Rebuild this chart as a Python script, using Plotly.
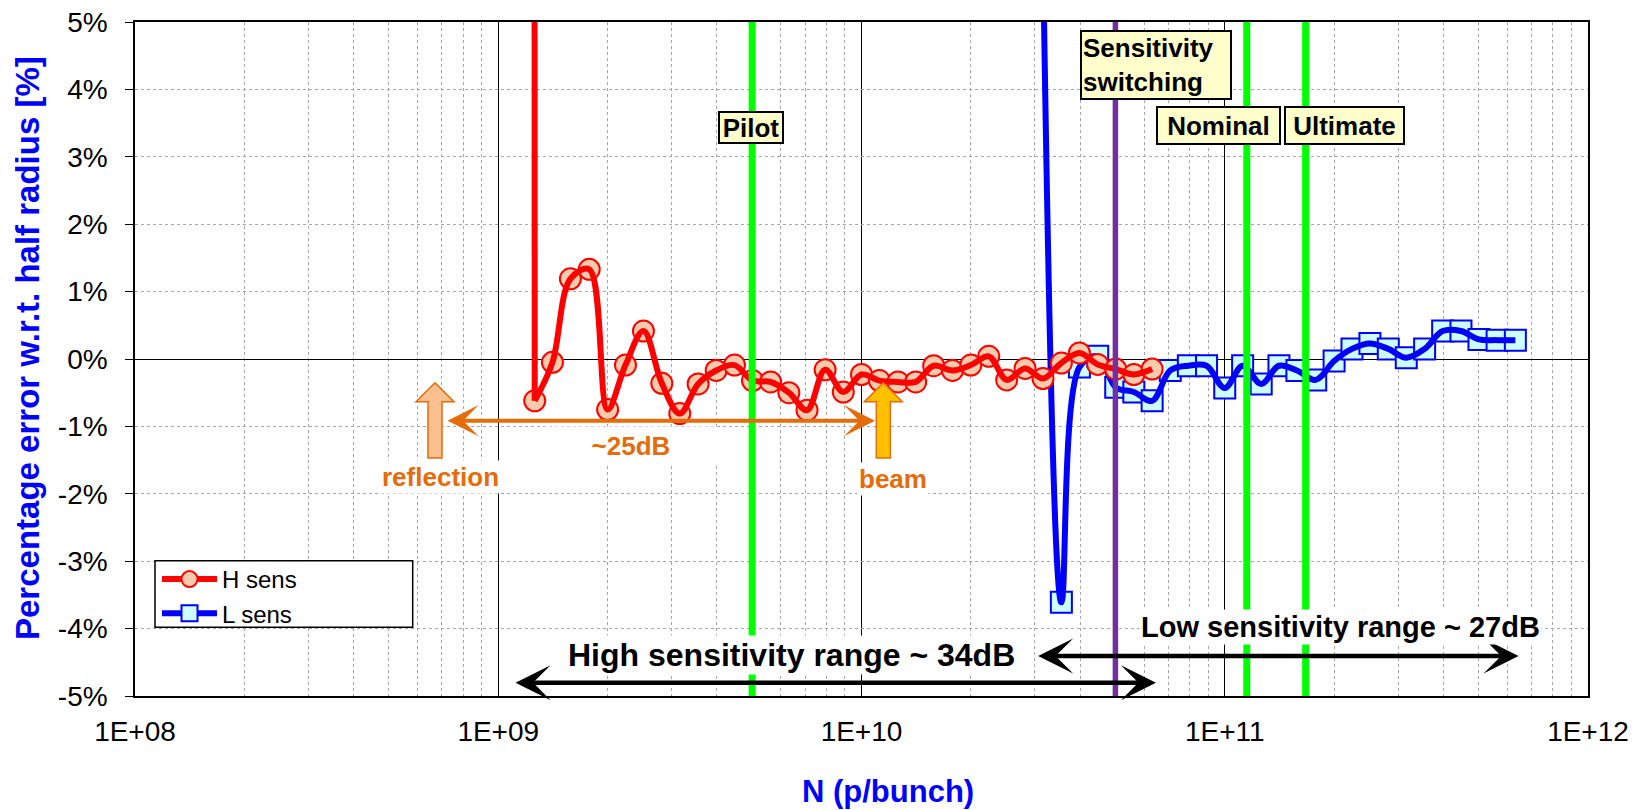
import plotly.graph_objects as go

# ---------------- data ----------------
# H sens: bunch intensity N (p/bunch) and percentage error; first point lies far above the chart
h_n = [1.25e9, 1.26e9, 1.41e9, 1.58e9, 1.78e9, 2.00e9, 2.24e9, 2.51e9, 2.82e9, 3.16e9,
       3.55e9, 3.98e9, 4.47e9, 5.01e9, 5.62e9, 6.31e9, 7.08e9, 7.94e9, 8.91e9, 1.00e10,
       1.12e10, 1.26e10, 1.41e10, 1.58e10, 1.78e10, 2.00e10, 2.24e10, 2.51e10, 2.82e10, 3.16e10,
       3.55e10, 3.98e10, 4.47e10, 5.01e10, 5.62e10, 6.31e10]
h_err = [60.0, -0.62, -0.05, 1.19, 1.33, -0.75, -0.09, 0.415, -0.36, -0.81,
         -0.37, -0.17, -0.09, -0.32, -0.34, -0.50, -0.76, -0.16, -0.49, -0.23,
         -0.32, -0.34, -0.34, -0.10, -0.17, -0.09, 0.04, -0.31, -0.14, -0.29,
         -0.06, 0.09, -0.08, -0.15, -0.23, -0.15]

# L sens: first point lies just above the chart
l_n = [3.16e10, 3.55e10, 3.98e10, 4.47e10, 5.01e10, 5.62e10, 6.31e10, 7.08e10, 7.94e10, 8.91e10,
       1.00e11, 1.12e11, 1.26e11, 1.41e11, 1.58e11, 1.78e11, 2.00e11, 2.24e11, 2.51e11, 2.82e11,
       3.16e11, 3.55e11, 3.98e11, 4.47e11, 5.01e11, 5.62e11, 6.31e11]
l_err = [6.0, -3.61, -0.12, 0.04, -0.42, -0.49, -0.62, -0.17, -0.10, -0.10,
         -0.43, -0.10, -0.37, -0.10, -0.17, -0.31, -0.03, 0.15, 0.23, 0.15,
         0.02, 0.15, 0.415, 0.415, 0.29, 0.28, 0.28]

# reference intensities
ref_names = ["Pilot", "Nominal", "Ultimate"]
ref_n = [5.0e9, 1.15e11, 1.67e11]
switch_n = 5.0e10

x_tickvals = [1e8, 1e9, 1e10, 1e11, 1e12]
x_ticktext = ["1E+08", "1E+09", "1E+10", "1E+11", "1E+12"]
y_tickvals = [-5, -4, -3, -2, -1, 0, 1, 2, 3, 4, 5]
y_ticktext = [f"{v}%" for v in y_tickvals]
y_range = [-5, 5]

# ---------------- geometry / style ----------------
W, H = 1633, 810
ML, MR, MT, MB = 135, 45, 22, 114
PW, PH = W - ML - MR, H - MT - MB
FONT = "Liberation Sans, Arial, sans-serif"
ORANGE = "#E46C0A"
RED, BLUE = "#FF0000", "#0000FF"


def px(xp, yp):
    return (xp - ML) / PW, (H - MB - yp) / PH


minor_vals = [k * 10 ** d for d in range(8, 12) for k in range(2, 10)]

h_marker = dict(symbol="circle", size=21, color="#F8CBAD", line=dict(color=RED, width=2))
l_marker = dict(symbol="square", size=21, color="#CCFFFF", line=dict(color=BLUE, width=2))

fig = go.Figure()

# L sens: markers below, smoothed line on top
fig.add_trace(go.Scatter(x=l_n, y=l_err, mode="markers", marker=l_marker,
                         showlegend=False, hoverinfo="skip"))
fig.add_trace(go.Scatter(x=l_n, y=l_err, mode="lines", showlegend=False,
                         line=dict(color=BLUE, width=6, shape="spline", smoothing=1)))
# H sens
fig.add_trace(go.Scatter(x=h_n[1:], y=h_err[1:], mode="markers", marker=h_marker,
                         showlegend=False, hoverinfo="skip"))
fig.add_trace(go.Scatter(x=h_n[:2], y=h_err[:2], mode="lines", showlegend=False, hoverinfo="skip",
                         line=dict(color=RED, width=6)))
fig.add_trace(go.Scatter(x=h_n[1:], y=h_err[1:], mode="lines", showlegend=False,
                         line=dict(color=RED, width=6, shape="spline", smoothing=1)))
# legend entries
fig.add_trace(go.Scatter(x=[None], y=[None], name="H sens", mode="lines+markers", legendrank=1,
                         line=dict(color=RED, width=6), marker=h_marker))
fig.add_trace(go.Scatter(x=[None], y=[None], name="L sens", mode="lines+markers", legendrank=2,
                         line=dict(color=BLUE, width=6), marker=l_marker))

for n in ref_n:
    fig.add_trace(go.Scatter(x=[n, n], y=y_range, mode="lines", showlegend=False, hoverinfo="skip",
                             line=dict(color="#00FF00", width=7)))
fig.add_trace(go.Scatter(x=[switch_n, switch_n], y=y_range, mode="lines", showlegend=False,
                         hoverinfo="skip", line=dict(color="#7030A0", width=5.5)))

ann = []


def text_ann(xp, yp, text, size, color="black", bg=None, border=None, w=None, h=None,
             align="center", angle=0):
    x, y = px(xp, yp)
    d = dict(x=x, y=y, xref="paper", yref="paper", xanchor="center", yanchor="middle",
             showarrow=False, text=text, align=align, textangle=angle,
             font=dict(family=FONT, size=size, color=color))
    if bg:
        d["bgcolor"] = bg
    if border:
        d.update(bordercolor=border, borderwidth=2, borderpad=1)
    if w:
        d["width"] = w
    if h:
        d["height"] = h
    ann.append(d)


def arrow(x0p, x1p, yp, color, width, size):
    x, y = px(x1p, yp)
    ann.append(dict(x=x, y=y, xref="paper", yref="paper", ax=x0p - x1p, ay=0,
                    axref="pixel", ayref="pixel", text="", showarrow=True,
                    arrowhead=3, startarrowhead=3, arrowside="end+start",
                    arrowsize=size, startarrowsize=size, arrowwidth=width, arrowcolor=color))


# black range arrows + labels
arrow(514, 1156, 682.7, "black", 4.5, 1.3)
arrow(1036.6, 1518.6, 656, "black", 4.5, 1.3)
text_ann(791, 655, "<b>High sensitivity range ~ 34dB</b>", 32, bg="white")
text_ann(1340.7, 626.7, "<b>Low sensitivity range ~ 27dB</b>", 29, bg="white")

# orange ~25dB arrow and labels
arrow(446, 875, 420.7, ORANGE, 4, 1.3)
text_ann(631, 446, "<b>~25dB</b>", 26, color=ORANGE, bg="white", w=170, h=36)
text_ann(440, 476.7, "<b>reflection</b>", 26, color=ORANGE, bg="white")
text_ann(893, 479, "<b>beam</b>", 26, color=ORANGE, bg="white")

# yellow label boxes
text_ann(751, 127, "<b>Pilot</b>", 26, bg="#FFFFCC", border="black", w=60, h=27)
text_ann(1218.3, 125.5, "<b>Nominal</b>", 26, bg="#FFFFCC", border="black", w=119, h=33)
text_ann(1344.3, 125.5, "<b>Ultimate</b>", 26, bg="#FFFFCC", border="black", w=115, h=33)
text_ann(1156, 65, "<b>Sensitivity<br>switching</b>", 26, bg="#FFFFCC", border="black",
         w=146, h=64, align="left")

# axis titles
text_ann(888, 791, "<b>N (p/bunch)</b>", 31, color=BLUE)
text_ann(27, 348, "<b>Percentage error w.r.t. half radius [%]</b>", 33, color=BLUE, angle=-90)

# shapes: legend frame and block arrows (reflection / beam)
shapes = []
lx0, ly0 = px(155, 560.7)
lx1, ly1 = px(412.7, 627.3)
shapes.append(dict(type="rect", xref="paper", yref="paper", x0=lx0, y0=ly1, x1=lx1, y1=ly0,
                   fillcolor="white", line=dict(color="black", width=1.5), layer="above"))


def block_arrow(cx, ytip, yhead, ybot, fill, edge):
    hw, sw = 19, 7
    pts = [(cx, ytip), (cx + hw, yhead), (cx + sw, yhead), (cx + sw, ybot),
           (cx - sw, ybot), (cx - sw, yhead), (cx - hw, yhead)]
    path = "M " + " L ".join(f"{px(a, b)[0]:.5f},{px(a, b)[1]:.5f}" for a, b in pts) + " Z"
    shapes.append(dict(type="path", path=path, xref="paper", yref="paper",
                       fillcolor=fill, line=dict(color=edge, width=1.5), layer="above"))


block_arrow(435, 382.7, 401.7, 458, "#FAC090", ORANGE)
block_arrow(883.3, 382.7, 401.7, 458, "#FFC000", ORANGE)

lgx, lgy = px(157, 557)

fig.update_layout(
    width=W, height=H,
    margin=dict(l=ML, r=MR, t=MT, b=MB, pad=0, autoexpand=False),
    paper_bgcolor="white", plot_bgcolor="white",
    font=dict(family=FONT, color="black"),
    showlegend=True,
    legend=dict(x=lgx, y=lgy, xanchor="left", yanchor="top", bgcolor="rgba(0,0,0,0)",
                borderwidth=0, itemwidth=55, font=dict(size=24, family=FONT, color="black"),
                tracegroupgap=0, itemsizing="trace"),
    annotations=ann,
    shapes=shapes,
    xaxis=dict(type="log", range=[8, 12], tickmode="array", tickvals=x_tickvals, ticktext=x_ticktext,
               showgrid=True, gridcolor="black", gridwidth=1, automargin=False,
               minor=dict(tickmode="array", tickvals=minor_vals, showgrid=True, gridcolor="#A6A6A6",
                          griddash="dot", gridwidth=1),
               showline=True, mirror=True, linecolor="black", linewidth=1.5,
               ticks="", zeroline=False, ticklabelstandoff=10,
               tickfont=dict(size=28, family=FONT, color="black")),
    yaxis=dict(range=y_range, tickmode="array", tickvals=y_tickvals, ticktext=y_ticktext,
               showgrid=True, gridcolor="#A6A6A6", griddash="dot", gridwidth=1, automargin=False,
               zeroline=True, zerolinecolor="black", zerolinewidth=1,
               showline=True, mirror=True, linecolor="black", linewidth=1.5,
               ticks="outside", ticklen=8, tickcolor="black", ticklabelstandoff=12,
               tickfont=dict(size=28, family=FONT, color="black")),
)

fig.write_html("out.html", config={"displayModeBar": False},
               post_script="document.body.style.margin='0';document.body.style.overflow='hidden';")
